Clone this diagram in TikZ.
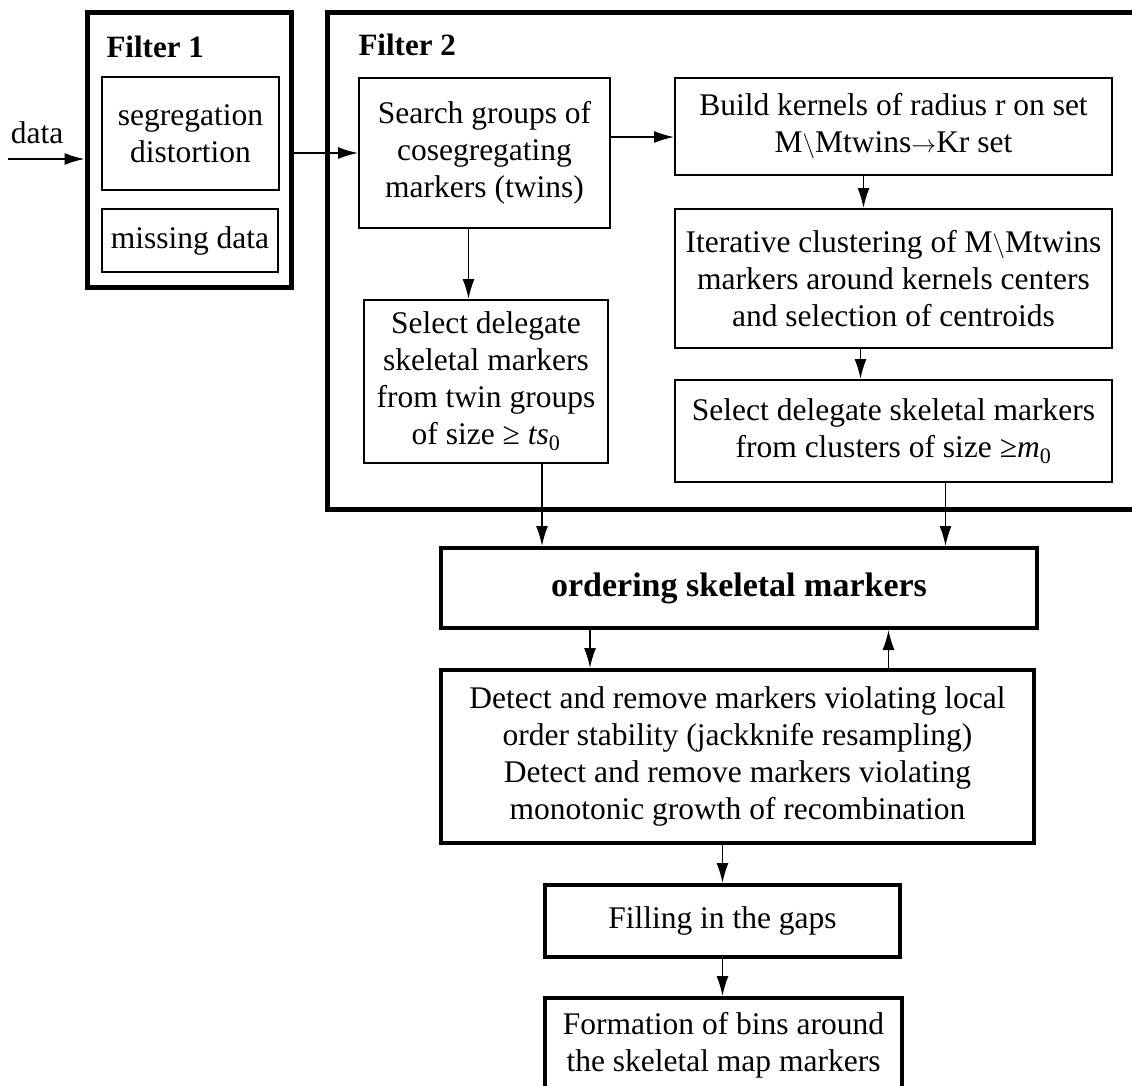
\documentclass[tikz,border=0pt]{standalone}
\usepackage{fontspec}
\setmainfont{Liberation Serif}
\usetikzlibrary{arrows.meta}

\begin{document}
\begin{tikzpicture}[x=1pt,y=-1pt,
	every node/.style={font=\fontsize{31.5}{37}\selectfont,align=center},
	outer box/.style={draw,line width=5pt,inner sep=0pt},
	inner box/.style={draw,line width=2pt,inner sep=0pt},
	main box/.style={draw,line width=4pt,inner sep=0pt},
	filter title/.style={font=\fontsize{31}{37}\selectfont\bfseries,anchor=west},
	arr/.style={line width=1.6pt,-{Latex[length=20pt,width=12pt]}}]

	\useasboundingbox (0,0) rectangle (1132,1085);
	\clip (0,0) rectangle (1132,1085);

	% filter 1
	\node [outer box,minimum width=204pt,minimum height=275pt,name=F1] at (189,149.5) {};
	\node [filter title,name=T1] at (103,47) {Filter 1};
	\node [inner box,minimum width=177pt,minimum height=113pt,name=A1] at (190.5,133.5) {segregation\\distortion};
	\node [inner box,minimum width=176pt,minimum height=63pt,name=A2] at (190,240.5) {missing data};

	% filter 2
	\node [outer box,minimum width=818pt,minimum height=497pt,name=F2] at (736,260.5) {};
	\node [filter title,name=T2] at (355,45) {Filter 2};
	\node [inner box,minimum width=251pt,minimum height=150pt,name=B1] at (484.5,153) {Search groups of\\cosegregating\\markers (twins)};
	\node [inner box,minimum width=244pt,minimum height=163pt,name=B2] at (486,381.5) {Select delegate\\skeletal markers\\from twin groups\\of size ≥ \textit{ts}\textsubscript{0}};
	\node [inner box,minimum width=437pt,minimum height=97pt,name=C1] at (893.5,126.5) {Build kernels of radius r on set\\M$\setminus$Mtwins$\rightarrow$Kr set};
	\node [inner box,minimum width=437pt,minimum height=139pt,name=C2] at (893.5,278.5) {Iterative clustering of M$\setminus$Mtwins\\markers around kernels centers\\and selection of centroids};
	\node [inner box,minimum width=437pt,minimum height=102pt,name=C3] at (893.5,431) {Select delegate skeletal markers\\from clusters of size ≥\textit{m}\textsubscript{0}};

	% ordering
	\node [main box,minimum width=596pt,minimum height=80pt,font=\fontsize{34}{40}\selectfont\bfseries,name=D1] at (739,588) {ordering skeletal markers};
	\node [main box,minimum width=593pt,minimum height=173pt,name=D2] at (737.5,756.5) {Detect and remove markers violating local\\order stability (jackknife resampling)\\Detect and remove markers violating\\monotonic growth of recombination};
	\node [main box,minimum width=355pt,minimum height=72pt,name=E1] at (722.5,921) {Filling in the gaps};
	\node [main box,minimum width=357pt,minimum height=94pt,name=E2] at (723.5,1045) {Formation of bins around\\the skeletal map markers};

	\coordinate (N) at (8,159);
	\node [name=L] at (37,133) {data};

	\draw [arr] (N) -- (N -| F1.west);
	\draw [arr] (B1.west -| F1.east) -- (B1.west);
	\draw [arr] ([yshift=16pt]B1.east) -- ([yshift=16pt]B1.east -| C1.west);
	\draw [arr] ([xshift=-16pt]B1.south) -- ([xshift=-16pt]B1.south |- B2.north);
	\draw [arr] ([xshift=-30pt]C1.south) -- ([xshift=-30pt]C1.south |- C2.north);
	\draw [arr] ([xshift=-33pt]C2.south) -- ([xshift=-33pt]C2.south |- C3.north);
	\draw [arr] ([xshift=56pt]B2.south) -- ([xshift=56pt]B2.south |- D1.north);
	\draw [arr] ([xshift=52pt]C3.south) -- ([xshift=52pt]C3.south |- D1.north);
	\draw [arr] ([xshift=-149pt]D1.south) -- ([xshift=-149pt]D1.south |- D2.north);
	\draw [arr] ([xshift=151pt]D2.north) -- ([xshift=151pt]D2.north |- D1.south);
	\draw [arr] (D2.south -| E1.north) -- (E1.north);
	\draw [arr] (E1.south) -- (E1.south |- E2.north);
\end{tikzpicture}
\end{document}
